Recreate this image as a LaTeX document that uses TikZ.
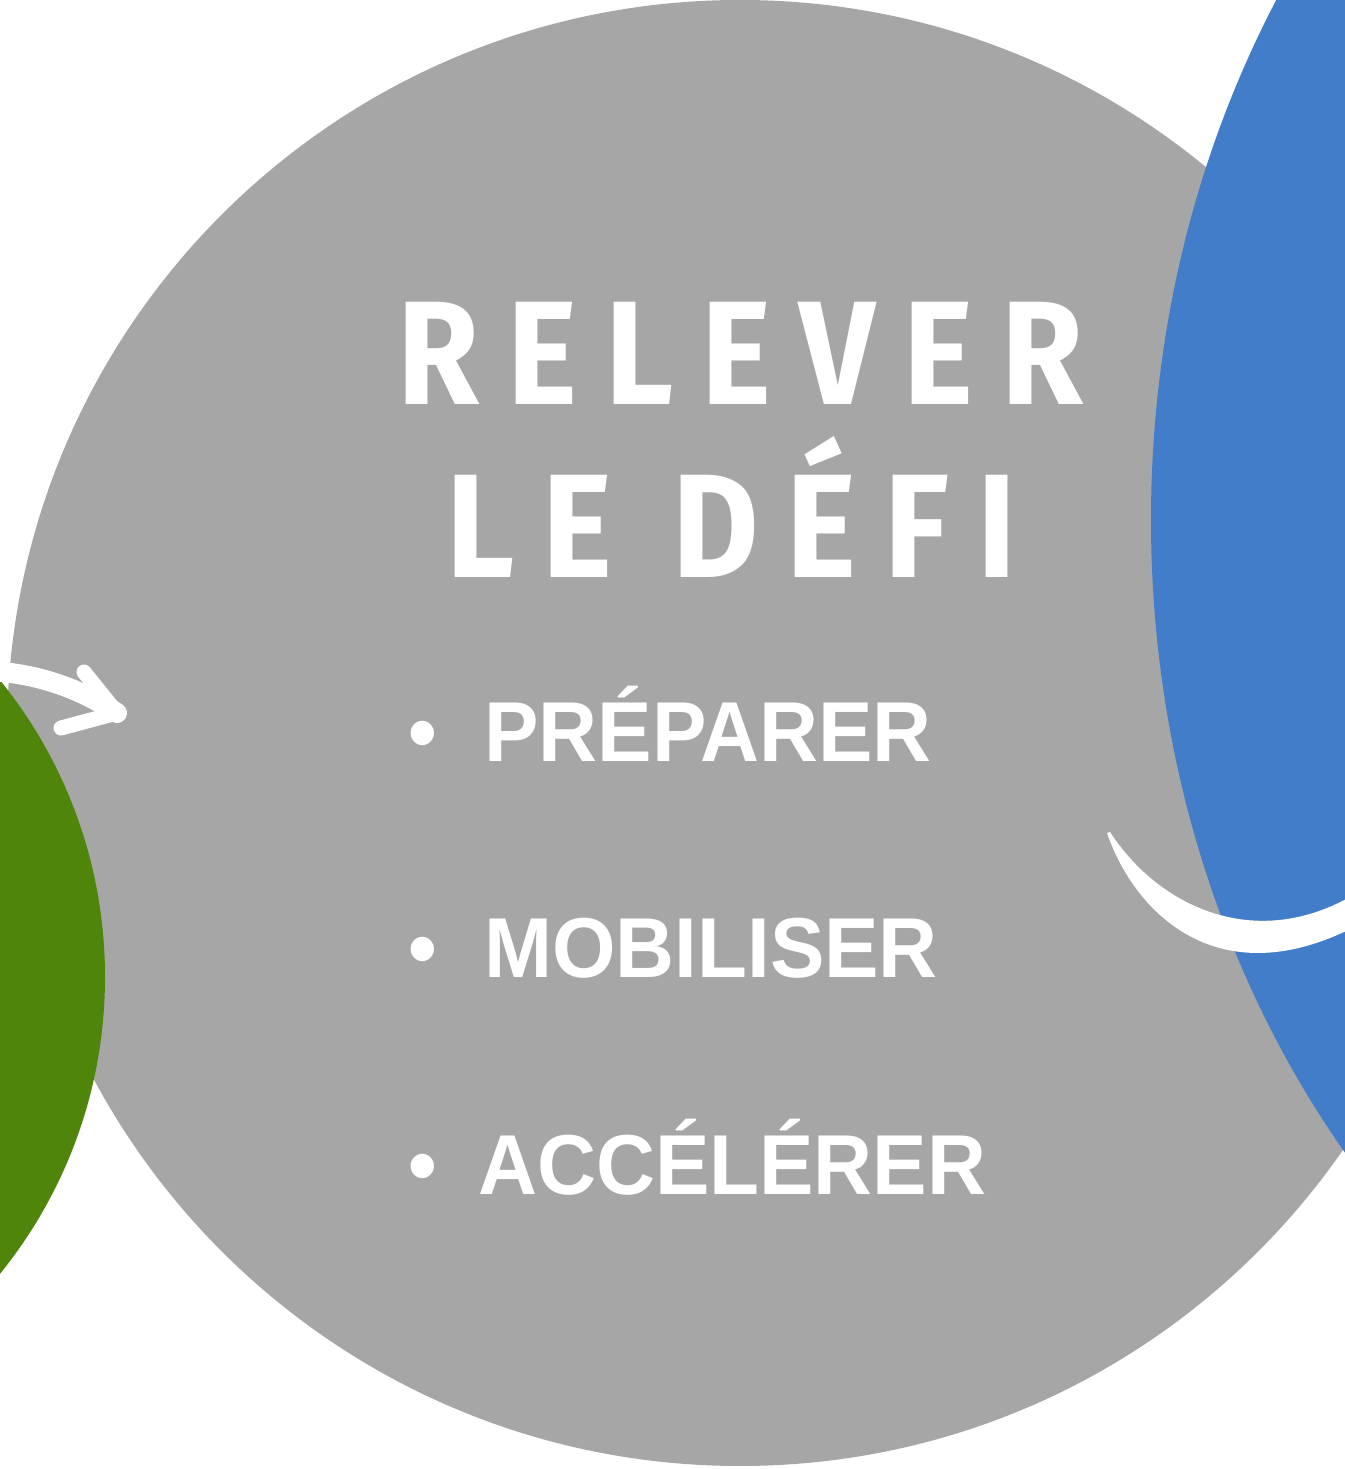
\documentclass[tikz,border=0pt]{standalone}
\usepackage{fontspec}
\newfontfamily\titlefont[FakeStretch=0.9,LetterSpace=19]{Fira Sans Bold}
\newfontfamily\itemfont[FakeStretch=0.96]{Liberation Sans Bold}
\definecolor{defigray}{HTML}{A6A6A6}
\definecolor{defiblue}{HTML}{417DC9}
\definecolor{defigreen}{HTML}{4E850A}
\tikzset{
  titletext/.style={text=white, inner sep=0pt, anchor=base west, font=\titlefont\fontsize{42pt}{42pt}\selectfont},
  listitem/.style={text=white, inner sep=0pt, anchor=base west, font=\itemfont\fontsize{24.2pt}{24.2pt}\selectfont},
  whitearrow/.style={white, line cap=round, line join=round}
}
\begin{document}
\begin{tikzpicture}
  \useasboundingbox (0,0) rectangle (13.45,14.69);
  \clip (0,0) rectangle (13.45,14.69);
  \fill[white] (0,0) rectangle (13.45,14.69);
  % circles
  \fill[defigray] (7.40,7.36) circle (7.33);
  \fill[defigreen] (-3.67,4.92) circle (4.72);
  \fill[defiblue] (20.11,9.49) ellipse (8.6 and 10.0);
  % title
  \node[titletext] (relever) at (3.97,10.64) {RELEVER};
  \node[titletext] (ledefi) at (4.46,8.91) {LE DÉFI};
  % list
  \node[listitem] (preparer) at (4.08,7.07) {•\kern0.47cm PRÉPARER};
  \node[listitem] (mobiliser) at (4.08,4.91) {•\kern0.47cm MOBILISER};
  \node[listitem] (accelerer) at (4.08,2.74) {•\kern0.41cm ACCÉLÉRER};
  % arrows
  \coordinate (greenout) at (-0.1,7.98);
  \coordinate (grayin) at (1.17,7.56);
  \draw[whitearrow, line width=0.2cm] (greenout) .. controls (0.4,7.95) and (0.8,7.8) .. (grayin);
  \draw[whitearrow, line width=0.15cm] (0.84,7.97) -- (grayin) -- (0.61,7.41);
  \coordinate (grayout) at (11.07,6.36);
  \coordinate (bluein) at (13.6,5.6);
  \fill[white] (grayout) .. controls (11.35,5.55) and (12.2,4.7) .. (13.6,5.45)
    -- (13.6,5.78) .. controls (12.6,5.15) and (11.6,5.6) .. (11.10,6.37) -- cycle;
\end{tikzpicture}
\end{document}
